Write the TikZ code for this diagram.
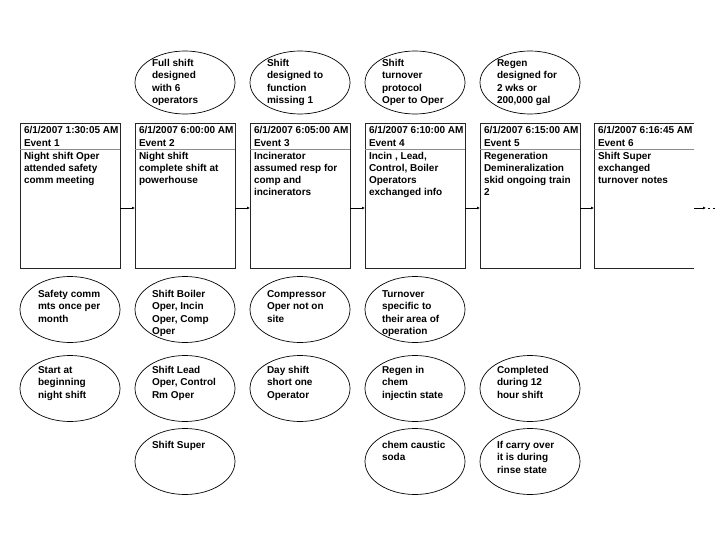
\documentclass[tikz,border=0pt]{standalone}
\usepackage{fontspec}
\setmainfont{Liberation Sans}
\usetikzlibrary{shapes.geometric,arrows.meta}
\newcommand\mystrut{\rule{0pt}{9pt}}
\tikzset{
  evbox/.style={draw=black!85, line width=0.9pt, rectangle, minimum width=100pt,
    minimum height=145pt, inner sep=0pt, outer sep=0pt, anchor=north west},
  evopen/.style={rectangle, minimum width=100pt, minimum height=145pt,
    inner sep=0pt, outer sep=0pt, anchor=north west},
  evframe/.style={draw=black!85, line width=0.9pt},
  sepline/.style={draw=black!45, line width=0.8pt},
  oval/.style={draw=black, line width=0.7pt, ellipse, minimum width=100pt,
    minimum height=66pt, inner sep=0pt, outer sep=0pt},
  hdtxt/.style={anchor=north west, inner sep=0pt, outer sep=0pt, align=left,
    font=\fontsize{10}{13}\selectfont\bfseries},
  bodytxt/.style={anchor=north west, inner sep=0pt, outer sep=0pt, align=left,
    font=\fontsize{10}{12}\selectfont\bfseries},
  ovtxt/.style={anchor=north west, inner sep=0pt, outer sep=0pt, align=left,
    font=\fontsize{10}{12.3}\selectfont\bfseries},
  flow/.style={draw=black, line width=0.7pt, -{Latex[length=3pt,width=3pt]}},
}
\begin{document}
\begin{tikzpicture}[x=1pt,y=-1pt]
\useasboundingbox (0,0) rectangle (720,540);

% event boxes
\node[evbox] (b1) at (20,123) {};
\node[evbox] (b2) at (135,123) {};
\node[evbox] (b3) at (250,123) {};
\node[evbox] (b4) at (365,123) {};
\node[evbox] (b5) at (480,123) {};
\node[evopen] (b6) at (594,123) {};
\draw[evframe] (b6.north east) -- (b6.north west) -- (b6.south west) -- (b6.south east);

% separator lines
\foreach \b in {b1,b2,b3,b4,b5,b6}
  \draw[sepline] ([yshift=-26pt]\b.north west) -- ([yshift=-26pt]\b.north east);

% headers
\node[hdtxt] (h1) at (24,124.6) {\mystrut 6/1/2007 1:30:05 AM\\Event 1};
\node[hdtxt] (h2) at (139,124.6) {\mystrut 6/1/2007 6:00:00 AM\\Event 2};
\node[hdtxt] (h3) at (254,124.6) {\mystrut 6/1/2007 6:05:00 AM\\Event 3};
\node[hdtxt] (h4) at (369,124.6) {\mystrut 6/1/2007 6:10:00 AM\\Event 4};
\node[hdtxt] (h5) at (484,124.6) {\mystrut 6/1/2007 6:15:00 AM\\Event 5};
\node[hdtxt] (h6) at (598,124.6) {\mystrut 6/1/2007 6:16:45 AM\\Event 6};

% bodies
\node[bodytxt] (t1) at (24,150.6) {\mystrut Night shift Oper\\attended safety\\comm meeting};
\node[bodytxt] (t2) at (139,150.6) {\mystrut Night shift\\complete shift at\\powerhouse};
\node[bodytxt] (t3) at (254,150.6) {\mystrut Incinerator\\assumed resp for\\comp and\\incinerators};
\node[bodytxt] (t4) at (369,150.6) {\mystrut Incin , Lead,\\Control, Boiler\\Operators\\exchanged info};
\node[bodytxt] (t5) at (484,150.6) {\mystrut Regeneration\\Demineralization\\skid ongoing train\\2};
\node[bodytxt] (t6) at (598,150.6) {\mystrut Shift Super\\exchanged\\turnover notes};

% connectors
\coordinate (y1) at (0,208);
\draw[flow] (b1.east |- y1) -- (b2.west |- y1);
\draw[flow] (b2.east |- y1) -- (b3.west |- y1);
\draw[flow] (b3.east |- y1) -- (b4.west |- y1);
\draw[flow] (b4.east |- y1) -- (b5.west |- y1);
\draw[flow] (b5.east |- y1) -- (b6.west |- y1);
\coordinate (endA) at (706,208);
\coordinate (endB) at (716,208);
\draw[flow] (b6.east |- y1) -- (endA);
\draw[line width=0.7pt, dash pattern=on 2pt off 3pt] ([xshift=2pt]endA) -- (endB);

% top ellipses
\node[oval, minimum height=63pt] (o1) at (185,82.5) {};
\node[oval, minimum height=63pt] (o2) at (300,82.5) {};
\node[oval, minimum height=63pt] (o3) at (415,82.5) {};
\node[oval, minimum height=63pt] (o4) at (530,82.5) {};
\node[ovtxt] (o1t) at (152,57.6) {\mystrut Full shift\\designed\\with 6\\operators};
\node[ovtxt] (o2t) at (267,57.6) {\mystrut Shift\\designed to\\function\\missing 1};
\node[ovtxt] (o3t) at (382,57.6) {\mystrut Shift\\turnover\\protocol\\Oper to Oper};
\node[ovtxt] (o4t) at (497,57.6) {\mystrut Regen\\designed for\\2 wks or\\200,000 gal};

% lower ellipses row 1
\node[oval] (p1) at (70,309.5) {};
\node[oval] (p2) at (185,309.5) {};
\node[oval] (p3) at (300,309.5) {};
\node[oval] (p4) at (415,309.5) {};
\node[ovtxt] (p1t) at (38,288.6) {\mystrut Safety comm\\mts once per\\month};
\node[ovtxt] (p2t) at (152,288.6) {\mystrut Shift Boiler\\Oper, Incin\\Oper, Comp\\Oper};
\node[ovtxt] (p3t) at (267,288.6) {\mystrut Compressor\\Oper not on\\site};
\node[ovtxt] (p4t) at (382,288.6) {\mystrut Turnover\\specific to\\their area of\\operation};

% lower ellipses row 2
\node[oval] (q1) at (70,388.5) {};
\node[oval] (q2) at (185,388.5) {};
\node[oval] (q3) at (300,388.5) {};
\node[oval] (q4) at (415,388.5) {};
\node[oval] (q5) at (530,388.5) {};
\node[ovtxt] (q1t) at (38,364.6) {\mystrut Start at\\beginning\\night shift};
\node[ovtxt] (q2t) at (152,364.6) {\mystrut Shift Lead\\Oper, Control\\Rm Oper};
\node[ovtxt] (q3t) at (267,364.6) {\mystrut Day shift\\short one\\Operator};
\node[ovtxt] (q4t) at (382,364.6) {\mystrut Regen in\\chem\\injectin state};
\node[ovtxt] (q5t) at (497,364.6) {\mystrut Completed\\during 12\\hour shift};

% lower ellipses row 3
\node[oval] (r2) at (185,461.5) {};
\node[oval] (r4) at (415,461.5) {};
\node[oval] (r5) at (530,461.5) {};
\node[ovtxt] (r2t) at (152,439.6) {\mystrut Shift Super};
\node[ovtxt] (r4t) at (382,439.6) {\mystrut chem caustic\\soda};
\node[ovtxt] (r5t) at (497,439.6) {\mystrut If carry over\\it is during\\rinse state};
\end{tikzpicture}
\end{document}
